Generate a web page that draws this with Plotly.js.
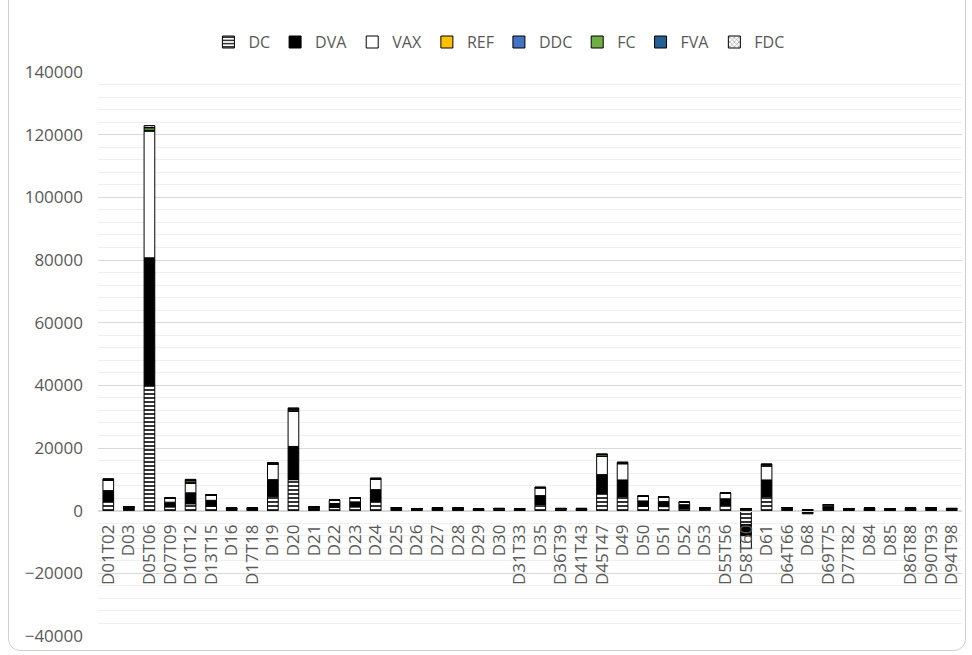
<!DOCTYPE html>
<html>
<head>
<meta charset="utf-8">
<script src="https://cdn.plot.ly/plotly-3.0.1.min.js"></script>
<style>
  html, body { margin: 0; padding: 0; background: #fff; }
  #wrap { position: relative; width: 972px; height: 655px; overflow: hidden; }
  #chart { width: 972px; height: 655px; }
  #frame { position: absolute; left: 8px; top: -12px; width: 958px; height: 663px;
           border: 1px solid #d0d0d0; border-radius: 12px; pointer-events: none; box-sizing: border-box; }
</style>
</head>
<body>
<div id="wrap"><div id="chart"></div><div id="frame"></div></div>
<script>
const categories = ["D01T02","D03","D05T06","D07T09","D10T12","D13T15","D16","D17T18","D19","D20",
  "D21","D22","D23","D24","D25","D26","D27","D28","D29","D30",
  "D31T33","D35","D36T39","D41T43","D45T47","D49","D50","D51","D52","D53",
  "D55T56","D58T60","D61","D64T66","D68","D69T75","D77T82","D84","D85","D86T88",
  "D90T93","D94T98"];

const DC  = [3000,400,40000,1200,2200,1500,300,250,4600,9900,
  350,1000,1200,3000,300,200,300,250,200,250,
  200,2000,250,200,5500,4500,1400,1300,700,500,
  1800,-4500,4500,300,-500,500,200,250,200,300,
  300,250];
const DVA = [3400,500,40700,1500,3500,1800,300,350,5300,10600,
  450,1300,1600,3700,400,250,400,350,200,200,
  250,2800,200,300,6000,5300,1700,1600,1200,200,
  2000,-3500,5300,400,-300,900,200,300,200,200,
  350,250];
const VAX = [3300,300,40500,1300,3100,1600,200,250,5000,11200,
  350,1000,1200,3300,300,200,300,250,200,250,
  200,2500,250,200,5800,5200,1500,1400,800,200,
  1800,-4000,4500,300,-200,500,200,250,200,300,
  300,200];
const REF = [0,0,0,0,0,0,0,0,0,0,
  0,0,0,0,0,0,0,0,0,0,
  0,0,0,0,0,0,0,0,0,0,
  0,600,0,0,300,0,0,0,0,0,
  0,0];
const DDC = [100,0,200,0,300,50,0,0,50,200,
  0,0,0,50,0,0,0,0,0,0,
  0,0,0,0,100,50,0,0,0,0,
  0,0,50,0,0,0,0,0,0,0,
  0,0];
const FC  = [200,0,800,0,500,100,0,0,200,500,
  0,50,50,200,0,0,0,0,0,0,
  0,100,0,0,500,300,50,50,0,0,
  50,0,400,0,0,50,0,0,0,0,
  0,0];
const FVA = [50,0,100,0,200,50,0,0,50,100,
  0,0,0,50,0,0,0,0,0,0,
  0,50,0,0,100,50,0,0,0,0,
  0,0,50,0,0,0,0,0,0,0,
  0,0];
const FDC = [100,0,600,0,200,50,100,0,100,300,
  0,0,0,100,0,0,0,0,0,0,
  0,50,0,0,100,100,0,0,0,0,
  50,0,100,0,0,0,0,0,0,0,
  0,0];

const outline = {color: '#000000', width: 1};
function bar(name, y, color, pattern) {
  const m = {color: color, line: outline};
  if (pattern) m.pattern = pattern;
  return {type: 'bar', name: name, x: categories, y: y, marker: m, hoverinfo: 'x+y+name'};
}

const traces = [
  bar('DC', DC, '#ffffff', {shape: '-', fgcolor: '#000000', size: 4, solidity: 0.4}),
  bar('DVA', DVA, '#000000'),
  bar('VAX', VAX, '#ffffff'),
  bar('REF', REF, '#FFC000'),
  bar('DDC', DDC, '#4472C4'),
  bar('FC', FC, '#70AD47'),
  bar('FVA', FVA, '#255E91'),
  bar('FDC', FDC, '#A5A5A5', {shape: 'x', fgcolor: '#7f7f7f', size: 4, solidity: 0.3})
];

const layout = {
  width: 972, height: 655,
  margin: {l: 98, r: 10, t: 72, b: 19},
  paper_bgcolor: '#ffffff', plot_bgcolor: '#ffffff',
  barmode: 'relative', bargap: 0.48,
  font: {family: 'Open Sans, sans-serif', size: 16, color: '#595959'},
  showlegend: true,
  legend: {orientation: 'h', x: 0.464, xanchor: 'center', y: 1.053, yanchor: 'middle',
           font: {size: 16, color: '#595959'}, itemwidth: 30, tracegroupgap: 0},
  xaxis: {
    type: 'category', tickmode: 'array', tickvals: categories, ticktext: categories,
    tickangle: -90, anchor: 'free', position: 40000/180000,
    showgrid: false, showline: true, linecolor: '#d9d9d9', ticks: '',
    tickfont: {size: 17, color: '#595959'}, ticklabelstandoff: 6,
    range: [-0.5, categories.length - 0.5]
  },
  yaxis: {
    range: [-40000, 140000], dtick: 20000, tick0: 0, tickformat: 'd',
    showgrid: true, gridcolor: '#d9d9d9', gridwidth: 1,
    minor: {dtick: 4000, showgrid: true, gridcolor: '#efefef', gridwidth: 1},
    zeroline: false, showline: false, ticks: '',
    tickfont: {size: 17, color: '#595959'}, ticklabelstandoff: 14
  }
};

Plotly.newPlot('chart', traces, layout, {displayModeBar: false, staticPlot: true});
</script>
</body>
</html>
